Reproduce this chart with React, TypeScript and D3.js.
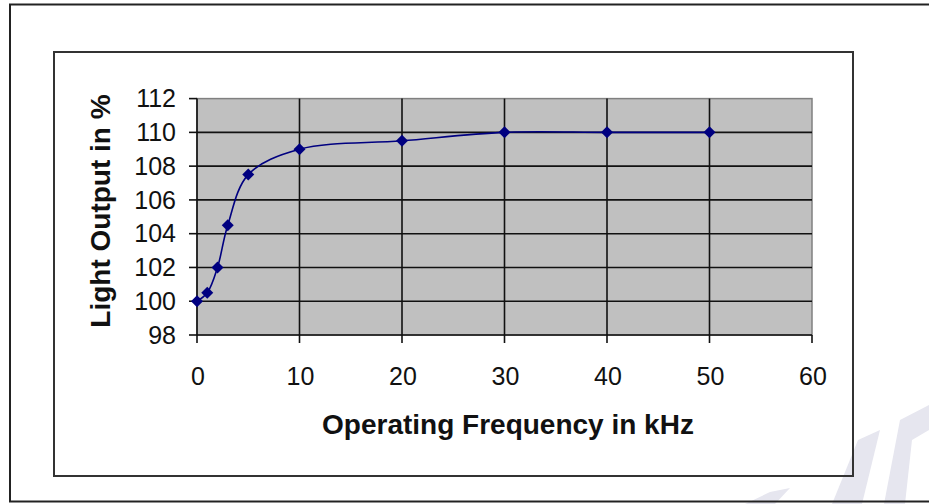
import React from "react";
import * as d3 from "d3";

const freqKHz = [0, 1, 2, 3, 5, 10, 20, 30, 40, 50];
const lightOutput = [100, 100.5, 102, 104.5, 107.5, 109, 109.5, 110, 110, 110];
const xTicks = [0, 10, 20, 30, 40, 50, 60];
const yTicks = [98, 100, 102, 104, 106, 108, 110, 112];
const xTitle = "Operating Frequency in kHz";
const yTitle = "Light Output in %";

const W = 929;
const H = 504;
const plot = { left: 197, right: 812, top: 98.6, bottom: 335 };
const font = "'Liberation Sans', Arial, sans-serif";

export default function App() {
  const x = d3.scaleLinear().domain([0, 60]).range([plot.left, plot.right]);
  const y = d3.scaleLinear().domain([98, 112]).range([plot.bottom, plot.top]);
  const pts: [number, number][] = freqKHz.map((f, i) => [x(f), y(lightOutput[i])]);
  const line = d3.line().curve(d3.curveCatmullRom.alpha(0.5))(pts) || "";
  const marker = d3.symbol().type(d3.symbolSquare).size(72)() || "";

  return (
    <svg
      width={W}
      height={H}
      style={{ position: "absolute", left: 0, top: 0, background: "#fff" }}
    >
      {/* watermark */}
      <g fill="#e6e6ef">
        <polygon points="832,504 858,440 880,430 862,504" />
        <polygon points="884,504 900,420 929,405 929,430 912,440 905,504" />
        <polygon points="745,504 770,492 790,488 775,504" />
      </g>
      {/* outer frame */}
      <rect x={10} y={4.5} width={940} height={497} fill="none" stroke="#222" strokeWidth={2} />
      {/* chart area box */}
      <rect x={54} y={52} width={799} height={424} fill="none" stroke="#333" strokeWidth={2} />

      {/* plot area */}
      <rect
        x={plot.left}
        y={plot.top}
        width={plot.right - plot.left}
        height={plot.bottom - plot.top}
        fill="#c0c0c0"
        stroke="#808080"
        strokeWidth={1.5}
      />
      {/* gridlines */}
      <g stroke="#111" strokeWidth={1.6}>
        {yTicks.slice(1, -1).map((t) => (
          <line key={"h" + t} x1={plot.left} x2={plot.right} y1={y(t)} y2={y(t)} />
        ))}
        {xTicks.slice(1, -1).map((t) => (
          <line key={"v" + t} x1={x(t)} x2={x(t)} y1={plot.top} y2={plot.bottom} />
        ))}
      </g>
      {/* axes */}
      <g stroke="#111" strokeWidth={1.6}>
        <line x1={plot.left} x2={plot.left} y1={plot.top} y2={plot.bottom} />
        <line x1={plot.left} x2={plot.right} y1={plot.bottom} y2={plot.bottom} />
        {yTicks.map((t) => (
          <line key={"yt" + t} x1={plot.left - 8} x2={plot.left} y1={y(t)} y2={y(t)} />
        ))}
        {xTicks.map((t) => (
          <line key={"xt" + t} x1={x(t)} x2={x(t)} y1={plot.bottom} y2={plot.bottom + 8} />
        ))}
      </g>
      {/* tick labels */}
      <g fontFamily={font} fontSize={25} fill="#111">
        {yTicks.map((t) => (
          <text key={"yl" + t} x={176} y={y(t)} dy="0.35em" textAnchor="end">
            {t}
          </text>
        ))}
        {xTicks.map((t) => (
          <text key={"xl" + t} x={x(t) + 1} y={385} textAnchor="middle">
            {t}
          </text>
        ))}
      </g>
      {/* axis titles */}
      <text
        x={508}
        y={434}
        textAnchor="middle"
        fontFamily={font}
        fontWeight="bold"
        fontSize={28}
        fill="#111"
      >
        {xTitle}
      </text>
      <text
        transform={`translate(110, 211) rotate(-90)`}
        textAnchor="middle"
        fontFamily={font}
        fontWeight="bold"
        fontSize={28}
        fill="#111"
      >
        {yTitle}
      </text>

      {/* series */}
      <path d={line} fill="none" stroke="#000080" strokeWidth={1.6} />
      <g fill="#000080">
        {pts.map(([px, py], i) => (
          <path key={i} d={marker} transform={`translate(${px},${py}) rotate(45)`} />
        ))}
      </g>
    </svg>
  );
}
